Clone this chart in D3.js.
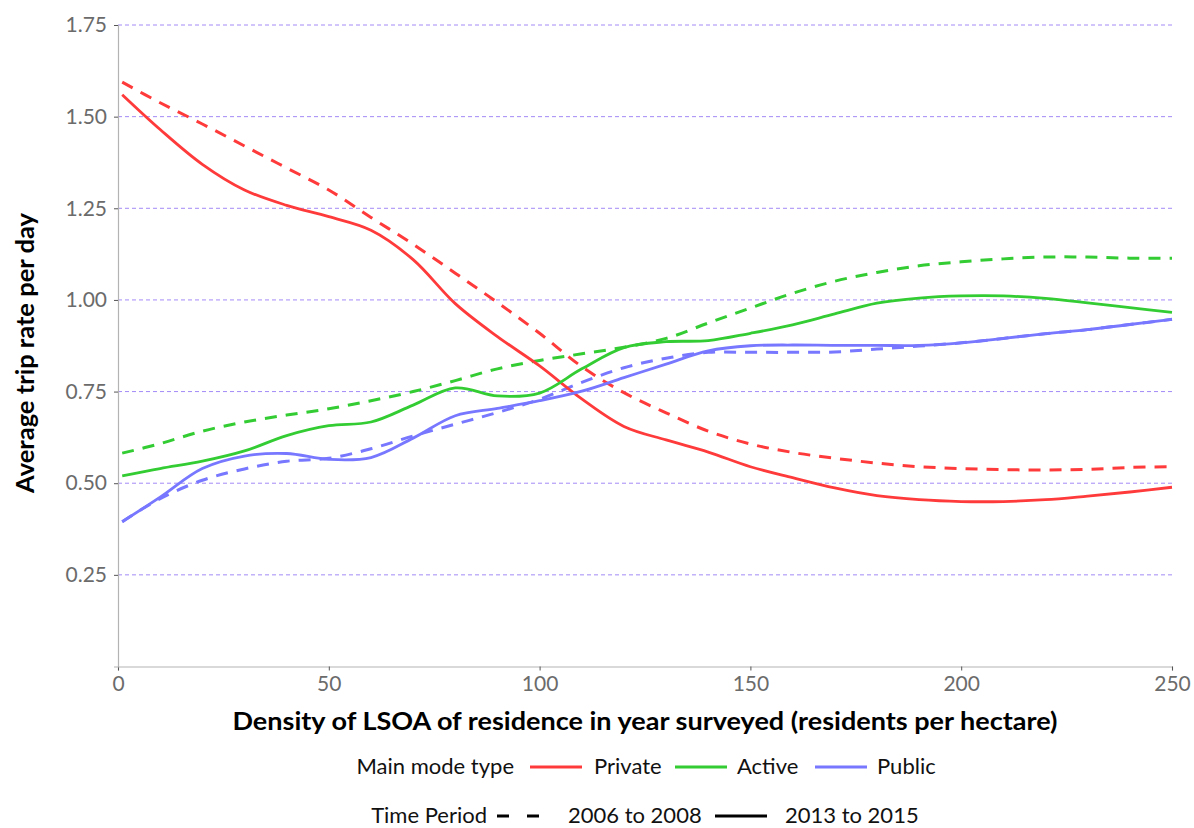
<!DOCTYPE html>
<html><head><meta charset="utf-8">
<script src="https://cdn.jsdelivr.net/npm/d3@7"></script>
<style>body{margin:0;background:#fff}svg{display:block}text{font-family:Lato,"Open Sans",sans-serif}</style>
</head><body><svg id="c" width="1194" height="828"></svg>
<script>
const density = [1,10,20,30,40,50,60,70,80,90,100,110,120,130,140,150,160,170,180,190,200,210,220,230,240,250];
const private13 = [1.56,1.465,1.37,1.30,1.258,1.227,1.19,1.11,0.99,0.90,0.82,0.73,0.655,0.618,0.585,0.545,0.515,0.487,0.466,0.455,0.450,0.450,0.455,0.465,0.476,0.489];
const private06 = [1.594,1.538,1.48,1.42,1.36,1.30,1.225,1.152,1.073,0.993,0.909,0.818,0.747,0.692,0.642,0.607,0.584,0.568,0.555,0.545,0.540,0.537,0.536,0.538,0.543,0.545];
const active13 = [0.52,0.54,0.56,0.588,0.63,0.657,0.667,0.713,0.76,0.738,0.746,0.812,0.87,0.886,0.889,0.909,0.932,0.962,0.991,1.005,1.011,1.011,1.004,0.992,0.979,0.966];
const active06 = [0.582,0.608,0.642,0.667,0.686,0.703,0.725,0.75,0.78,0.812,0.835,0.853,0.871,0.895,0.937,0.978,1.018,1.051,1.075,1.093,1.104,1.112,1.117,1.117,1.114,1.114];
const public13 = [0.395,0.462,0.540,0.574,0.581,0.565,0.570,0.623,0.684,0.704,0.725,0.751,0.788,0.825,0.861,0.875,0.877,0.876,0.876,0.876,0.883,0.895,0.908,0.919,0.933,0.947];
const public06 = [0.395,0.458,0.508,0.539,0.560,0.568,0.594,0.629,0.661,0.693,0.729,0.775,0.815,0.841,0.857,0.857,0.857,0.858,0.866,0.874,0.883,0.895,0.908,0.919,0.933,0.947];
const modes = ["Private","Active","Public"];
const modeColors = ["#ff3a3a","#33cc33","#7777ff"];
const periods = ["2006 to 2008","2013 to 2015"];
const xTicks = [0,50,100,150,200,250];
const yTicks = [0.25,0.50,0.75,1.00,1.25,1.50,1.75];

const svg = d3.select("#c");
const x = d3.scaleLinear().domain([0,250]).range([118,1172]);
const y = d3.scaleLinear().domain([0,1.75]).range([666.5,25]);

// grid
svg.append("g").selectAll("line").data(yTicks).join("line")
  .attr("x1",118).attr("x2",1172).attr("y1",d=>y(d)).attr("y2",d=>y(d))
  .attr("stroke","#a38af7").attr("stroke-width",1).attr("stroke-dasharray","4,3");

// axes
const gx = svg.append("g").attr("transform","translate(0,666.5)")
  .call(d3.axisBottom(x).tickValues(xTicks).tickSize(4).tickPadding(6).tickFormat(d3.format("d")));
const gy = svg.append("g").attr("transform","translate(118,0)")
  .call(d3.axisLeft(y).tickValues(yTicks).tickSize(4).tickPadding(7).tickFormat(d3.format(".2f")));
[gx,gy].forEach(g=>{
  g.select(".domain").attr("stroke","#b3b3b3").attr("stroke-width",1.2);
  g.selectAll(".tick line").attr("stroke","#555");
  g.selectAll(".tick text").attr("fill","#6b6b6b").style("font-size","21px").style("font-family","Lato,sans-serif");
});

// lines
const line = d3.line().x(d=>x(d[0])).y(d=>y(d[1])).curve(d3.curveCatmullRom.alpha(0.5));
const series = [
  {v:private06,c:0,p:0},{v:active06,c:1,p:0},{v:public06,c:2,p:0},
  {v:private13,c:0,p:1},{v:active13,c:1,p:1},{v:public13,c:2,p:1}
];
svg.append("g").selectAll("path").data(series).join("path")
  .attr("d",s=>line(density.map((d,i)=>[d,s.v[i]])))
  .attr("fill","none").attr("stroke",s=>modeColors[s.c]).attr("stroke-width",s=>s.p===0?3:2.8)
  .attr("stroke-dasharray",s=>s.p===0?"12,9":null);

// axis titles
svg.append("text").attr("x",645).attr("y",730).attr("text-anchor","middle")
  .attr("textLength",825).attr("lengthAdjust","spacingAndGlyphs")
  .style("font-size","25px").style("font-weight","bold").attr("fill","#000")
  .text("Density of LSOA of residence in year surveyed (residents per hectare)");
svg.append("text").attr("transform","translate(34,353) rotate(-90)").attr("text-anchor","middle")
  .attr("textLength",280).attr("lengthAdjust","spacingAndGlyphs")
  .style("font-size","25px").style("font-weight","bold").attr("fill","#000")
  .text("Average trip rate per day");

// legend 1
const lg = svg.append("g");
const fs = "22px";
lg.append("text").attr("x",514).attr("y",774).attr("text-anchor","end").style("font-size",fs).attr("fill","#111").text("Main mode type");
const keyX = [530,675,815], labX=[594,737,877];
modes.forEach((m,i)=>{
  lg.append("line").attr("x1",keyX[i]).attr("x2",keyX[i]+52).attr("y1",767).attr("y2",767).attr("stroke",modeColors[i]).attr("stroke-width",2.8);
  lg.append("text").attr("x",labX[i]).attr("y",774).style("font-size",fs).attr("fill","#111").text(m);
});
// legend 2
lg.append("text").attr("x",487).attr("y",823).attr("text-anchor","end").style("font-size",fs).attr("fill","#111").text("Time Period");
lg.append("line").attr("x1",497).attr("x2",545).attr("y1",816).attr("y2",816).attr("stroke","#000").attr("stroke-width",2.8).attr("stroke-dasharray","12,18");
lg.append("text").attr("x",568).attr("y",823).style("font-size",fs).attr("fill","#111").text(periods[0]);
lg.append("line").attr("x1",715).attr("x2",767).attr("y1",816).attr("y2",816).attr("stroke","#000").attr("stroke-width",2.8);
lg.append("text").attr("x",785).attr("y",823).style("font-size",fs).attr("fill","#111").text(periods[1]);
</script></body></html>
